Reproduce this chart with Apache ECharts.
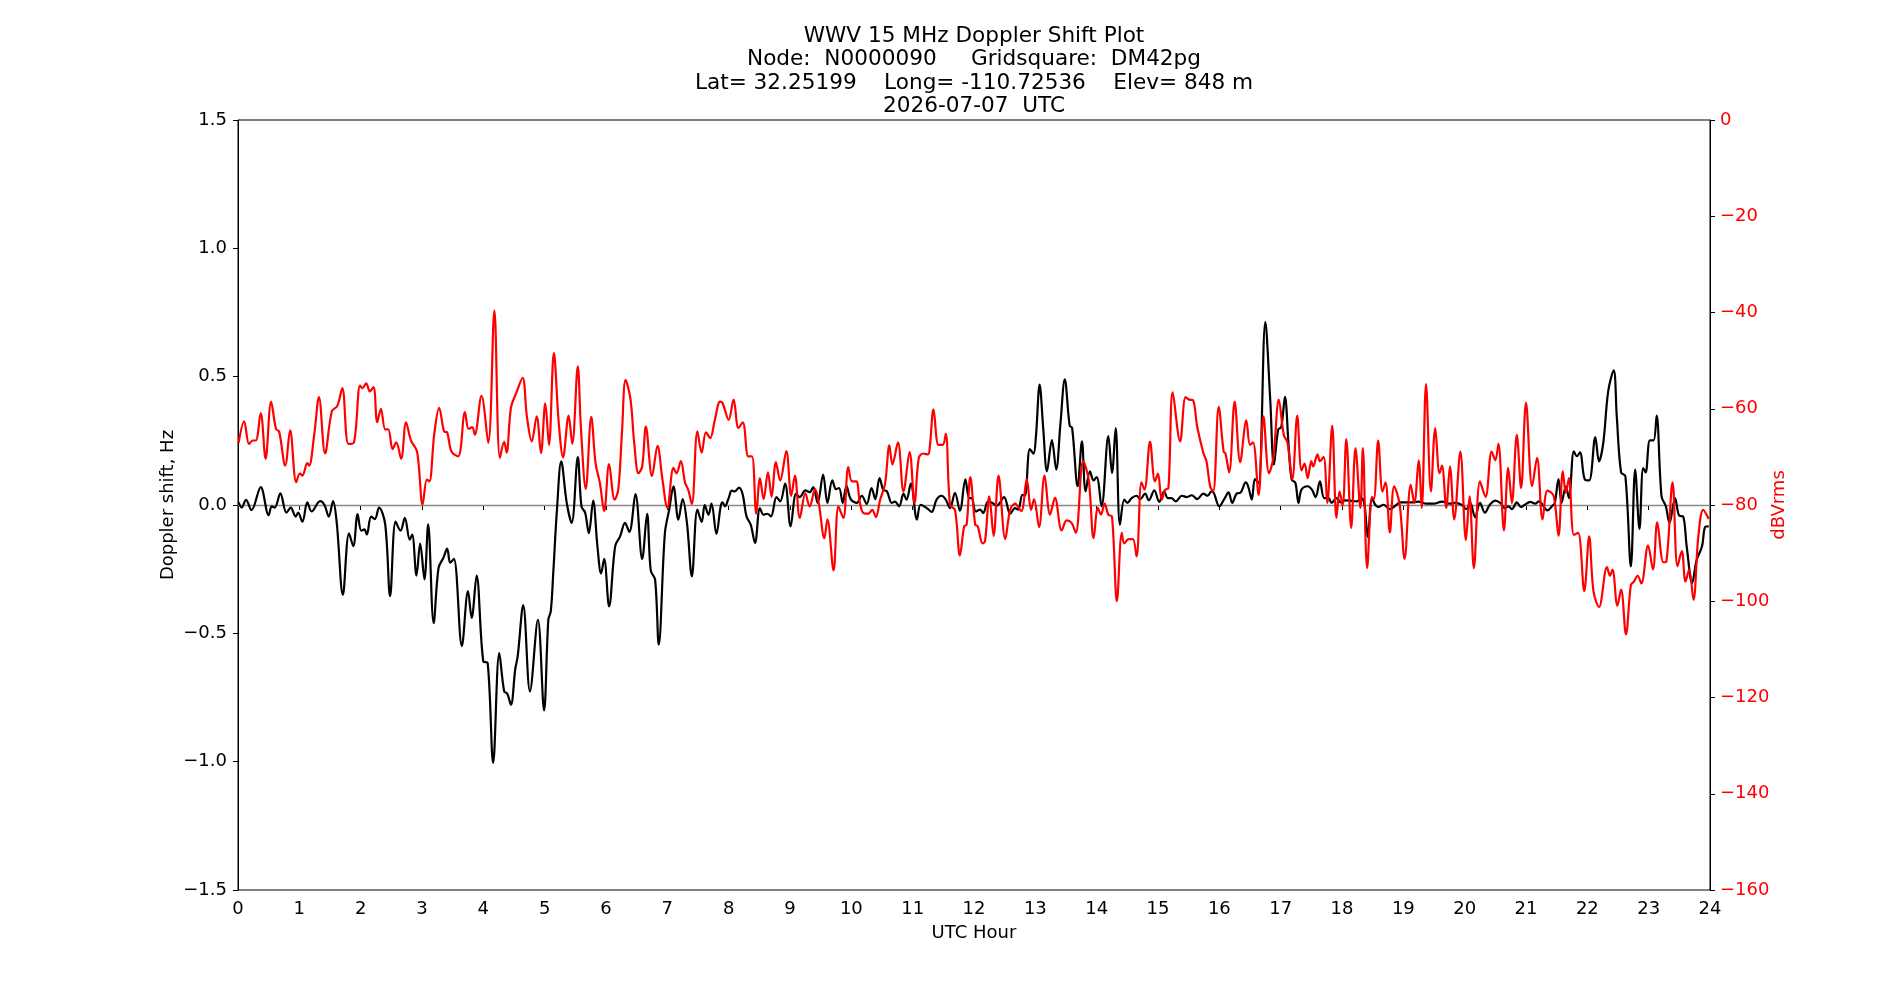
<!DOCTYPE html>
<html>
<head>
<meta charset="utf-8">
<script src="https://cdn.jsdelivr.net/npm/echarts@6/dist/echarts.min.js"></script>
<style>
  html, body { margin: 0; padding: 0; background: #fff; }
  #chart { width: 1900px; height: 1000px; }
</style>
</head>
<body>
<div id="chart"></div>
<script>
// title lines
const titleLines = [
  'WWV 15 MHz Doppler Shift Plot',
  'Node:  N0000090     Gridsquare:  DM42pg',
  'Lat= 32.25199    Long= -110.72536    Elev= 848 m',
  '2026-07-07  UTC'
];

// doppler shift (Hz) vs UTC hour
const dopplerHours = [
  0.01, 0.06, 0.13, 0.22, 0.37, 0.50, 0.55, 0.60, 0.69, 0.79, 0.86, 0.94, 0.98, 1.05, 1.13, 1.20, 1.34, 1.41, 1.48, 1.55,
  1.61, 1.71, 1.81, 1.88, 1.95, 2.01, 2.06, 2.10, 2.17, 2.23, 2.30, 2.40, 2.48, 2.57, 2.65, 2.72, 2.80, 2.84, 2.91, 2.97,
  3.04, 3.10, 3.19, 3.27, 3.35, 3.41, 3.46, 3.52, 3.65, 3.75, 3.81, 3.89, 4.00, 4.07, 4.16, 4.26, 4.34, 4.39, 4.45, 4.52,
  4.56, 4.65, 4.76, 4.89, 4.99, 5.06, 5.10, 5.14, 5.20, 5.27, 5.36, 5.44, 5.54, 5.60, 5.66, 5.72, 5.79, 5.86, 5.92, 5.97,
  6.05, 6.15, 6.23, 6.31, 6.38, 6.48, 6.59, 6.67, 6.73, 6.80, 6.86, 6.96, 7.03, 7.10, 7.18, 7.25, 7.32, 7.40, 7.49, 7.56,
  7.61, 7.67, 7.72, 7.80, 7.87, 7.90, 7.94, 8.00, 8.05, 8.10, 8.17, 8.23, 8.29, 8.36, 8.43, 8.51, 8.57, 8.63, 8.69, 8.78,
  8.84, 8.92, 9.01, 9.10, 9.16, 9.25, 9.32, 9.38, 9.45, 9.54, 9.61, 9.69, 9.75, 9.80, 9.86, 9.92, 9.99, 10.09, 10.17, 10.25,
  10.33, 10.39, 10.46, 10.52, 10.58, 10.66, 10.71, 10.78, 10.85, 10.90, 10.97, 11.07, 11.13, 11.23, 11.31, 11.39, 11.47, 11.54, 11.61, 11.69,
  11.77, 11.86, 11.92, 11.96, 12.03, 12.10, 12.15, 12.23, 12.30, 12.37, 12.49, 12.59, 12.67, 12.72, 12.79, 12.83, 12.91, 12.97, 13.01, 13.07,
  13.13, 13.19, 13.27, 13.34, 13.41, 13.48, 13.56, 13.60, 13.69, 13.76, 13.82, 13.89, 13.95, 14.00, 14.08, 14.19, 14.25, 14.31, 14.38, 14.45,
  14.50, 14.57, 14.65, 14.71, 14.79, 14.85, 14.94, 15.02, 15.10, 15.16, 15.22, 15.29, 15.39, 15.47, 15.55, 15.64, 15.74, 15.81, 15.87, 15.91,
  16.00, 16.08, 16.15, 16.21, 16.28, 16.35, 16.43, 16.47, 16.53, 16.58, 16.64, 16.75, 16.83, 16.89, 16.96, 17.01, 17.07, 17.13, 17.18, 17.24,
  17.29, 17.34, 17.44, 17.51, 17.57, 17.64, 17.71, 17.78, 17.83, 17.91, 17.98, 18.05, 18.13, 18.24, 18.32, 18.37, 18.42, 18.49, 18.54, 18.59,
  18.68, 18.78, 18.87, 18.95, 19.11, 19.25, 19.38, 19.49, 19.63, 19.76, 19.84, 19.95, 20.03, 20.09, 20.17, 20.25, 20.33, 20.41, 20.50, 20.58,
  20.66, 20.71, 20.77, 20.85, 20.92, 20.98, 21.07, 21.15, 21.21, 21.28, 21.35, 21.43, 21.47, 21.53, 21.58, 21.65, 21.70, 21.78, 21.83, 21.88,
  21.96, 22.03, 22.13, 22.19, 22.26, 22.34, 22.43, 22.48, 22.55, 22.62, 22.71, 22.78, 22.85, 22.91, 22.95, 23.02, 23.08, 23.13, 23.21, 23.28,
  23.34, 23.43, 23.50, 23.56, 23.62, 23.71, 23.78, 23.87, 23.92, 23.98
];
const dopplerHz = [
  0.01, -0.01, 0.02, -0.02, 0.07, -0.04, -0.005, -0.01, 0.045, -0.03, -0.01, -0.045, -0.03, -0.065, 0.01, -0.025, 0.015, 0.0, -0.045, 0.015,
  -0.07, -0.35, -0.11, -0.16, -0.035, -0.10, -0.095, -0.115, -0.045, -0.055, -0.01, -0.075, -0.355, -0.065, -0.10, -0.05, -0.135, -0.115, -0.275, -0.15,
  -0.29, -0.075, -0.46, -0.245, -0.205, -0.17, -0.225, -0.21, -0.55, -0.335, -0.44, -0.275, -0.61, -0.615, -1.005, -0.577, -0.726, -0.735, -0.778, -0.64,
  -0.59, -0.39, -0.726, -0.447, -0.80, -0.447, -0.414, -0.265, -0.02, 0.17, 0.008, -0.07, 0.187, -0.005, -0.03, -0.11, 0.017, -0.16, -0.267, -0.21,
  -0.395, -0.16, -0.122, -0.07, -0.105, 0.042, -0.21, -0.034, -0.256, -0.29, -0.544, -0.11, -0.018, 0.073, -0.057, 0.023, -0.07, -0.278, -0.018, -0.066,
  0.0, -0.038, 0.005, -0.113, -0.005, 0.01, -0.005, 0.027, 0.056, 0.053, 0.068, 0.04, -0.044, -0.077, -0.148, -0.012, -0.038, -0.034, -0.044, 0.031,
  0.014, 0.083, -0.083, 0.044, 0.031, 0.057, 0.05, 0.07, 0.008, 0.118, 0.008, 0.096, 0.062, 0.066, 0.008, 0.075, 0.023, 0.008, 0.036, 0.004,
  0.066, 0.023, 0.105, 0.06, 0.053, 0.008, 0.013, -0.005, 0.044, 0.021, 0.083, -0.057, 0.001, -0.012, -0.027, 0.021, 0.036, 0.021, -0.012, 0.047,
  -0.022, 0.10, 0.027, 0.027, -0.025, -0.018, -0.031, 0.014, 0.008, -0.003, 0.031, -0.034, -0.012, -0.018, 0.04, 0.036, 0.218, 0.20, 0.268, 0.469,
  0.294, 0.131, 0.253, 0.138, 0.319, 0.49, 0.309, 0.30, 0.073, 0.248, 0.053, 0.131, 0.096, 0.109, -0.005, 0.268, 0.125, 0.30, -0.077, 0.021,
  0.008, 0.027, 0.036, 0.023, 0.044, 0.018, 0.057, 0.012, 0.053, 0.027, 0.027, 0.014, 0.036, 0.031, 0.038, 0.023, 0.044, 0.036, 0.053, 0.047,
  -0.005, 0.023, 0.049, 0.008, 0.044, 0.049, 0.088, 0.073, 0.021, 0.101, 0.086, 0.713, 0.41, 0.157, 0.294, 0.304, 0.421, 0.229, 0.099, 0.086,
  0.008, 0.06, 0.073, 0.06, 0.031, 0.092, 0.027, 0.027, 0.008, 0.027, 0.01, 0.018, 0.017, 0.014, 0.027, -0.005, -0.125, 0.027, 0.001, -0.008,
  0.001, -0.016, -0.003, 0.01, 0.01, 0.013, 0.005, 0.005, 0.013, 0.005, 0.008, 0.001, -0.016, 0.008, -0.048, 0.008, -0.03, 0.001, 0.017, 0.008,
  -0.012, -0.005, -0.016, 0.01, -0.008, 0.001, 0.012, 0.005, 0.014, -0.003, -0.021, -0.003, 0.008, 0.101, 0.008, 0.073, 0.027, 0.209, 0.19, 0.205,
  0.099, 0.096, 0.265, 0.17, 0.242, 0.443, 0.525, 0.345, 0.127, 0.112, -0.239, 0.138, -0.094, 0.144, 0.127, 0.252, 0.252, 0.348, 0.034, -0.005,
  -0.07, 0.027, -0.042, -0.044, -0.161, -0.304, -0.216, -0.161, -0.086, -0.083
];

// signal level (dBVrms) vs UTC hour
const powerHours = [
  0.01, 0.10, 0.18, 0.24, 0.29, 0.37, 0.45, 0.54, 0.62, 0.67, 0.77, 0.85, 0.95, 1.01, 1.05, 1.13, 1.16, 1.24, 1.32, 1.42,
  1.53, 1.62, 1.70, 1.80, 1.89, 1.99, 2.03, 2.09, 2.15, 2.21, 2.27, 2.33, 2.40, 2.45, 2.52, 2.58, 2.66, 2.74, 2.82, 2.92,
  3.01, 3.08, 3.12, 3.20, 3.28, 3.36, 3.41, 3.48, 3.59, 3.70, 3.76, 3.82, 3.86, 3.97, 4.08, 4.18, 4.27, 4.34, 4.38, 4.45,
  4.54, 4.64, 4.71, 4.79, 4.87, 4.94, 5.01, 5.07, 5.15, 5.23, 5.30, 5.39, 5.45, 5.54, 5.59, 5.67, 5.76, 5.83, 5.90, 5.97,
  6.05, 6.14, 6.20, 6.26, 6.32, 6.40, 6.46, 6.53, 6.59, 6.65, 6.75, 6.84, 6.92, 7.00, 7.10, 7.15, 7.22, 7.29, 7.34, 7.40,
  7.49, 7.56, 7.63, 7.70, 7.77, 7.86, 7.90, 8.00, 8.08, 8.16, 8.23, 8.32, 8.38, 8.45, 8.51, 8.57, 8.64, 8.70, 8.77, 8.84,
  8.94, 9.02, 9.08, 9.16, 9.25, 9.32, 9.41, 9.47, 9.56, 9.61, 9.71, 9.79, 9.87, 9.95, 10.01, 10.08, 10.14, 10.20, 10.28, 10.34,
  10.40, 10.47, 10.55, 10.62, 10.67, 10.76, 10.85, 10.95, 11.03, 11.10, 11.17, 11.25, 11.28, 11.34, 11.42, 11.49, 11.54, 11.61, 11.69, 11.77,
  11.84, 11.88, 11.94, 12.02, 12.06, 12.14, 12.18, 12.25, 12.32, 12.40, 12.51, 12.59, 12.67, 12.77, 12.86, 12.93, 12.98, 13.06, 13.15, 13.24,
  13.32, 13.43, 13.51, 13.59, 13.66, 13.78, 13.87, 13.95, 14.02, 14.07, 14.13, 14.19, 14.25, 14.33, 14.41, 14.45, 14.52, 14.59, 14.65, 14.73,
  14.78, 14.87, 14.95, 15.00, 15.06, 15.12, 15.17, 15.24, 15.36, 15.45, 15.51, 15.57, 15.64, 15.74, 15.79, 15.85, 15.90, 15.99, 16.07, 16.10,
  16.16, 16.25, 16.34, 16.44, 16.50, 16.55, 16.64, 16.72, 16.81, 16.88, 16.97, 17.05, 17.11, 17.19, 17.27, 17.34, 17.39, 17.44, 17.50, 17.53,
  17.60, 17.64, 17.70, 17.76, 17.84, 17.91, 17.96, 18.01, 18.07, 18.15, 18.22, 18.30, 18.34, 18.41, 18.49, 18.52, 18.59, 18.66, 18.71, 18.78,
  18.85, 18.94, 19.02, 19.12, 19.18, 19.25, 19.30, 19.37, 19.45, 19.52, 19.59, 19.63, 19.70, 19.76, 19.83, 19.93, 20.02, 20.08, 20.15, 20.25,
  20.34, 20.44, 20.50, 20.55, 20.64, 20.71, 20.77, 20.85, 20.92, 21.00, 21.10, 21.18, 21.27, 21.35, 21.45, 21.53, 21.60, 21.65, 21.70, 21.78,
  21.85, 21.95, 22.03, 22.10, 22.19, 22.32, 22.37, 22.41, 22.49, 22.55, 22.63, 22.71, 22.76, 22.82, 22.88, 22.99, 23.07, 23.14, 23.24, 23.29,
  23.39, 23.47, 23.54, 23.60, 23.66, 23.73, 23.81, 23.89, 23.98
];
const powerDb = [
  -67.1, -62.6, -67.3, -66.6, -66.6, -60.9, -70.4, -58.5, -64.2, -64.7, -71.8, -64.5, -75.3, -73.4, -73.9, -71.3, -71.8, -65.7, -57.6, -69.3,
  -60.5, -59.4, -55.7, -67.3, -67.0, -55.2, -55.7, -54.7, -56.4, -55.5, -62.8, -60.0, -64.3, -64.3, -68.4, -67.0, -70.4, -62.8, -66.6, -68.9,
  -79.9, -74.7, -75.1, -65.2, -59.8, -64.7, -64.9, -68.9, -69.9, -60.7, -64.2, -63.8, -65.4, -57.3, -67.1, -39.6, -70.2, -66.9, -69.1, -59.8,
  -56.6, -53.6, -61.6, -66.8, -61.6, -69.2, -58.9, -67.5, -48.4, -63.0, -70.1, -61.4, -67.3, -51.2, -63.7, -76.7, -61.7, -71.3, -75.4, -81.3,
  -71.5, -78.9, -76.8, -65.0, -54.0, -58.1, -67.1, -73.4, -72.0, -63.7, -74.0, -67.7, -74.7, -80.6, -72.3, -73.4, -70.9, -75.4, -76.8, -79.8,
  -64.7, -69.1, -64.9, -66.1, -62.6, -58.5, -58.8, -62.3, -58.1, -64.0, -62.8, -69.9, -69.9, -81.8, -74.4, -78.8, -73.2, -78.3, -71.1, -74.9,
  -68.8, -78.1, -73.9, -82.7, -77.6, -80.3, -76.7, -79.7, -86.9, -83.0, -93.6, -80.3, -82.7, -72.1, -75.1, -75.1, -79.6, -81.7, -81.8, -81.0,
  -82.5, -78.9, -75.6, -67.6, -71.6, -67.0, -77.2, -69.0, -79.6, -70.2, -69.3, -69.5, -67.8, -60.1, -67.5, -67.5, -65.2, -80.0, -81.0, -90.5,
  -84.4, -84.1, -74.2, -84.1, -84.4, -88.0, -87.5, -78.2, -86.4, -73.9, -87.1, -81.0, -79.7, -81.3, -74.6, -81.0, -78.8, -84.6, -73.9, -82.0,
  -78.5, -85.3, -83.2, -83.7, -85.8, -70.9, -74.7, -86.9, -80.6, -82.0, -79.7, -82.0, -82.4, -100.0, -85.8, -88.0, -87.1, -87.1, -90.7, -75.3,
  -76.8, -66.8, -75.1, -73.5, -78.9, -76.8, -76.5, -56.6, -66.8, -57.6, -58.1, -58.2, -63.8, -69.2, -70.9, -76.1, -77.2, -59.6, -68.9, -69.3,
  -73.2, -58.5, -71.1, -62.4, -67.5, -67.0, -77.9, -61.6, -73.4, -70.2, -58.1, -65.4, -67.0, -74.7, -61.4, -72.8, -71.4, -74.4, -70.9, -72.0,
  -69.5, -70.9, -70.0, -79.6, -63.5, -82.7, -77.2, -80.1, -66.3, -84.8, -68.2, -80.6, -68.2, -93.1, -78.3, -78.8, -66.6, -77.2, -75.3, -85.7,
  -76.1, -79.9, -91.2, -75.8, -79.6, -70.7, -80.6, -54.9, -77.2, -64.0, -73.4, -71.8, -80.6, -72.0, -83.0, -68.9, -87.3, -78.2, -93.1, -75.1,
  -78.3, -68.9, -70.7, -67.3, -85.3, -72.3, -79.6, -65.4, -76.5, -58.7, -76.1, -70.2, -83.0, -77.0, -78.1, -86.4, -73.0, -77.5, -74.4, -86.2,
  -85.8, -97.9, -86.5, -97.9, -101.2, -92.9, -94.7, -93.4, -100.9, -97.6, -106.9, -96.6, -95.9, -94.7, -96.3, -88.4, -93.4, -83.6, -91.9, -91.7,
  -75.3, -92.7, -89.6, -95.9, -93.4, -99.7, -86.5, -81.0, -82.9
];

const chart = echarts.init(document.getElementById('chart'), null, { renderer: 'canvas' });

const font = 'DejaVu Sans';
const tickFont = 18;
// matplotlib style minus sign
const fmt = (v, digits) => {
  const s = Math.abs(v).toFixed(digits);
  return v < 0 ? '\u2212' + s : s;
};

const option = {
  animation: false,
  backgroundColor: '#fff',
  textStyle: { fontFamily: font },
  graphic: titleLines.map((line, i) => ({
    type: 'text',
    x: 974,
    y: 36.5 + i * 23.2,
    style: {
      text: line,
      font: '21.6px "DejaVu Sans"',
      fill: '#000',
      textAlign: 'center',
      textVerticalAlign: 'middle'
    }
  })),
  grid: {
    left: 238,
    right: 190,
    top: 120,
    bottom: 110,
    show: true,
    borderColor: '#000',
    borderWidth: 1,
    backgroundColor: 'transparent'
  },
  xAxis: {
    type: 'value',
    min: 0,
    max: 24,
    interval: 1,
    name: 'UTC Hour',
    nameLocation: 'middle',
    nameGap: 34,
    nameMoveOverlap: false,
    nameTextStyle: { color: '#000', fontSize: tickFont, fontFamily: font },
    axisLine: { show: true, lineStyle: { color: '#000', width: 1 } },
    axisTick: { show: true, inside: false, length: 5, lineStyle: { color: '#000' } },
    axisLabel: { color: '#000', fontSize: tickFont, fontFamily: font, margin: 10 },
    splitLine: { show: false }
  },
  yAxis: [
    {
      type: 'value',
      position: 'left',
      min: -1.5,
      max: 1.5,
      interval: 0.5,
      name: 'Doppler shift, Hz',
      nameLocation: 'middle',
      nameRotate: 90,
      nameGap: 61,
      nameMoveOverlap: false,
      nameTextStyle: { color: '#000', fontSize: tickFont, fontFamily: font },
      axisLine: { show: true, lineStyle: { color: '#000', width: 1 } },
      axisTick: { show: true, inside: false, length: 5, lineStyle: { color: '#000' } },
      axisLabel: { color: '#000', fontSize: tickFont, fontFamily: font, margin: 11, formatter: v => fmt(v, 1) },
      splitLine: { show: false }
    },
    {
      type: 'value',
      position: 'right',
      min: -160,
      max: 0,
      interval: 20,
      name: 'dBVrms',
      nameLocation: 'middle',
      nameRotate: 90,
      nameGap: 60,
      nameMoveOverlap: false,
      nameTextStyle: { color: '#ff0000', fontSize: tickFont, fontFamily: font },
      axisLine: { show: true, lineStyle: { color: '#000', width: 1 } },
      axisTick: { show: true, inside: false, length: 5, lineStyle: { color: '#000' } },
      axisLabel: { color: '#ff0000', fontSize: tickFont, fontFamily: font, margin: 10, formatter: v => fmt(v, 0) },
      splitLine: { show: false }
    }
  ],
  series: [
    {
      name: 'Doppler shift',
      type: 'line',
      yAxisIndex: 0,
      data: dopplerHours.map((h, i) => [h, dopplerHz[i]]),
      showSymbol: false,
      smooth: 0.35,
      lineStyle: { color: '#000', width: 2.2 },
      z: 3,
      markLine: {
        silent: true,
        symbol: 'none',
        label: { show: false },
        lineStyle: { color: '#8a8a8a', width: 1.3, type: 'solid' },
        data: [{ yAxis: 0 }],
        z: 1
      }
    },
    {
      name: 'dBVrms',
      type: 'line',
      yAxisIndex: 1,
      data: powerHours.map((h, i) => [h, powerDb[i]]),
      showSymbol: false,
      smooth: 0.35,
      lineStyle: { color: '#ff0000', width: 2.2 },
      z: 4
    }
  ]
};

chart.setOption(option);
</script>
</body>
</html>
